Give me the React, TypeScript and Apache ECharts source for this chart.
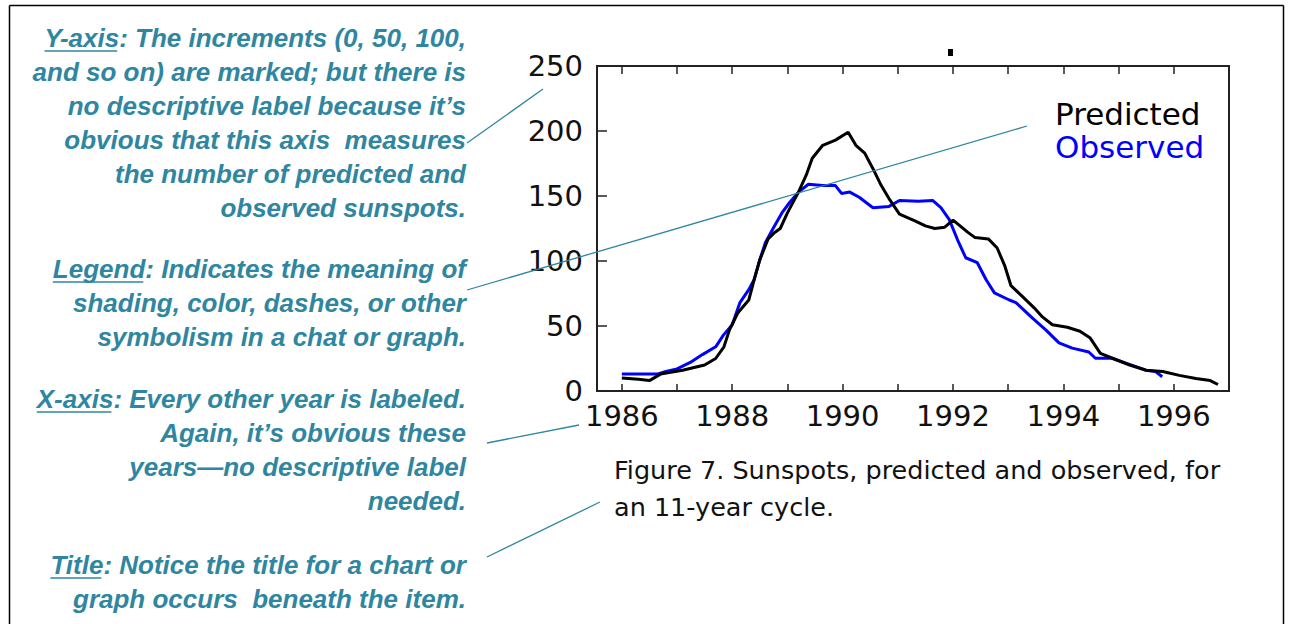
import React, { useEffect, useRef } from "react";
import * as echarts from "echarts";

// ---------- data ----------
const seriesNames = ["Predicted", "Observed"];

const predictedYears = [
  1986.0, 1986.3, 1986.5, 1986.7, 1987.1, 1987.5, 1987.7, 1987.85, 1987.95, 1988.1,
  1988.3, 1988.4, 1988.5, 1988.65, 1988.77, 1988.87, 1989.0, 1989.2, 1989.34, 1989.45,
  1989.64, 1989.87, 1990.1, 1990.24, 1990.4, 1990.55, 1990.7, 1990.84, 1991.03, 1991.3,
  1991.5, 1991.67, 1991.85, 1992.0, 1992.1, 1992.27, 1992.4, 1992.64, 1992.8, 1992.94,
  1993.05, 1993.25, 1993.47, 1993.62, 1993.8, 1994.07, 1994.3, 1994.48, 1994.67, 1994.9,
  1995.2, 1995.5, 1995.8, 1996.1, 1996.4, 1996.66, 1996.8,
];
const predictedValues = [
  10, 9, 8, 13, 16, 20, 25, 34, 47, 60,
  70, 86, 101, 117, 122, 125, 137, 153, 166, 179,
  189, 193, 199, 189, 183, 171, 158, 148, 136, 131,
  127, 125, 126, 131.5, 128, 122, 118, 117, 110, 96,
  81, 73, 64, 57, 51, 49, 46, 41, 29, 25,
  20, 16, 15, 12, 9.6, 8, 5,
];

const observedYears = [
  1986.0, 1986.64, 1986.8, 1987.0, 1987.24, 1987.46, 1987.7, 1987.84, 1988.0, 1988.14,
  1988.3, 1988.4, 1988.5, 1988.6, 1988.74, 1988.9, 1989.04, 1989.2, 1989.38, 1989.64,
  1989.87, 1989.98, 1990.13, 1990.3, 1990.55, 1990.84, 1991.03, 1991.37, 1991.63, 1991.78,
  1991.93, 1992.08, 1992.23, 1992.44, 1992.6, 1992.75, 1993.02, 1993.14, 1993.44, 1993.68,
  1993.92, 1994.16, 1994.46, 1994.58, 1994.88, 1995.13, 1995.49, 1995.67, 1995.79,
];
const observedValues = [
  13, 13, 15, 17, 22, 28, 34, 43, 51, 68,
  78, 86, 101, 114, 125, 137, 145, 153, 159, 158,
  158, 152, 153, 149, 141, 142, 146.5, 146, 146.6, 141,
  132, 116.5, 102.5, 98.7, 85.6, 75.5, 70, 68, 56, 47,
  37, 33, 30, 25.2, 25.2, 21.5, 16, 15, 11,
];

const xTickYears = [1986, 1987, 1988, 1989, 1990, 1991, 1992, 1993, 1994, 1995, 1996];
const xLabelYears = [1986, 1988, 1990, 1992, 1994, 1996];
const yTickValues = [0, 50, 100, 150, 200, 250];

const captionLines = [
  "Figure 7. Sunspots, predicted and observed, for",
  "an 11-year cycle.",
];

const yAxisNoteTerm = "Y-axis";
const yAxisNoteLines = [
  ": The increments (0, 50, 100,",
  "and so on) are marked; but there is",
  "no descriptive label because it\u2019s",
  "obvious that this axis  measures",
  "the number of predicted and",
  "observed sunspots.",
];
const legendNoteTerm = "Legend";
const legendNoteLines = [
  ": Indicates the meaning of",
  "shading, color, dashes, or other",
  "symbolism in a chat or graph.",
];
const xAxisNoteTerm = "X-axis";
const xAxisNoteLines = [
  ": Every other year is labeled.",
  "Again, it\u2019s obvious these",
  "years\u2014no descriptive label",
  "needed.",
];
const titleNoteTerm = "Title";
const titleNoteLines = [
  ": Notice the title for a chart or",
  "graph occurs  beneath the item.",
];

// ---------- layout / style ----------
const W = 1295;
const H = 624;
const TEAL = "#2f86a0";
const NOTE_FONT = 'italic bold 26px "Liberation Sans", Arial, sans-serif';
const NOTE_RIGHT = 466;
const NOTE_GAP = 34;
const CHART_FONT = '"DejaVu Sans", Verdana, sans-serif';
const FRAME = "#222";

const GRID = { left: 597, top: 66, width: 632, height: 325 };

function measure(text: string, font: string): number {
  const c = document.createElement("canvas").getContext("2d");
  if (!c) return text.length * 12;
  c.font = font;
  return c.measureText(text).width;
}

function noteBlock(term: string, lines: string[], startY: number): any[] {
  const els: any[] = [];
  lines.forEach((ln, i) => {
    const txt = i === 0 ? term + ln : ln;
    const y = startY + i * NOTE_GAP;
    els.push({
      type: "text",
      z: 10,
      style: {
        text: txt,
        x: NOTE_RIGHT,
        y,
        font: NOTE_FONT,
        fill: TEAL,
        align: "right",
        textAlign: "right",
        verticalAlign: "middle",
        textVerticalAlign: "middle",
      },
    });
    if (i === 0) {
      const total = measure(txt, NOTE_FONT);
      const tw = measure(term, NOTE_FONT);
      const x0 = NOTE_RIGHT - total;
      els.push({
        type: "line",
        z: 10,
        shape: { x1: x0, y1: y + 13, x2: x0 + tw - 2, y2: y + 13 },
        style: { stroke: TEAL, lineWidth: 1.6 },
      });
    }
  });
  return els;
}

const pointerLines = [
  [467, 143, 543, 89],
  [467, 290, 1027, 126],
  [487, 443, 579, 425],
  [487, 557, 600, 502],
];

export default function App() {
  const ref = useRef<HTMLDivElement | null>(null);

  useEffect(() => {
    if (!ref.current) return;
    const chart = echarts.init(ref.current, null, { renderer: "svg" });

    const graphics: any[] = [];
    // outer border
    graphics.push(
      { type: "line", shape: { x1: 9.5, y1: 5.5, x2: 9.5, y2: H }, style: { stroke: "#000", lineWidth: 1.5 } },
      { type: "line", shape: { x1: 9.5, y1: 5.5, x2: 1283.5, y2: 5.5 }, style: { stroke: "#000", lineWidth: 1.5 } },
      { type: "line", shape: { x1: 1283.5, y1: 5.5, x2: 1283.5, y2: H }, style: { stroke: "#000", lineWidth: 1.5 } }
    );
    graphics.push(...noteBlock(yAxisNoteTerm, yAxisNoteLines, 38));
    graphics.push(...noteBlock(legendNoteTerm, legendNoteLines, 269));
    graphics.push(...noteBlock(xAxisNoteTerm, xAxisNoteLines, 399));
    graphics.push(...noteBlock(titleNoteTerm, titleNoteLines, 565));
    pointerLines.forEach((p) =>
      graphics.push({
        type: "line",
        z: 20,
        shape: { x1: p[0], y1: p[1], x2: p[2], y2: p[3] },
        style: { stroke: TEAL, lineWidth: 1.3 },
      })
    );
    captionLines.forEach((t, i) =>
      graphics.push({
        type: "text",
        style: {
          text: t,
          x: 614,
          y: 470 + i * 37,
          font: '25.5px "DejaVu Sans", Verdana, sans-serif',
          fill: "#111",
          align: "left",
          textAlign: "left",
          verticalAlign: "middle",
          textVerticalAlign: "middle",
        },
      })
    );
    graphics.push({ type: "rect", shape: { x: 948, y: 49, width: 5, height: 7 }, style: { fill: "#000" } });

    const predictedData = predictedYears.map((x, i) => [x, predictedValues[i]]);
    const observedData = observedYears.map((x, i) => [x, observedValues[i]]);

    const xCommon = {
      type: "value",
      min: 1985.55,
      max: 1997,
      splitLine: { show: false },
      axisLine: { show: true, onZero: false, lineStyle: { color: FRAME, width: 2 } },
    };

    chart.setOption({
      animation: false,
      backgroundColor: "#fff",
      grid: {
        ...GRID,
        show: true,
        borderColor: FRAME,
        borderWidth: 2,
        backgroundColor: "transparent",
        containLabel: false,
      },
      legend: {
        orient: "vertical",
        left: 1050,
        top: 97,
        padding: 0,
        itemGap: 0,
        itemWidth: 0,
        itemHeight: 0,
        icon: "none",
        selectedMode: false,
        textStyle: { fontFamily: CHART_FONT, fontSize: 31, lineHeight: 33 },
        data: [
          { name: seriesNames[0], textStyle: { color: "#000" } },
          { name: seriesNames[1], textStyle: { color: "#0000ff" } },
        ],
      },
      xAxis: [
        {
          ...xCommon,
          position: "bottom",
          axisTick: {
            show: true,
            inside: true,
            length: 7,
            customValues: xTickYears,
            lineStyle: { color: FRAME, width: 1.5 },
          },
          axisLabel: {
            show: true,
            customValues: xLabelYears,
            margin: 10,
            fontFamily: CHART_FONT,
            fontSize: 29,
            color: "#111",
            formatter: (v: number) => String(Math.round(v)),
          },
        },
        {
          ...xCommon,
          position: "top",
          axisTick: {
            show: true,
            inside: true,
            length: 8,
            customValues: xTickYears,
            lineStyle: { color: FRAME, width: 1.5 },
          },
          axisLabel: { show: false },
        },
      ],
      yAxis: [
        {
          type: "value",
          min: 0,
          max: 250,
          interval: 50,
          splitLine: { show: false },
          axisLine: { show: true, lineStyle: { color: FRAME, width: 2 } },
          axisTick: {
            show: true,
            inside: true,
            length: 10,
            customValues: yTickValues,
            lineStyle: { color: FRAME, width: 1.5 },
          },
          axisLabel: {
            margin: 14,
            fontFamily: CHART_FONT,
            fontSize: 29,
            color: "#111",
          },
        },
      ],
      series: [
        {
          name: seriesNames[1],
          type: "line",
          xAxisIndex: 0,
          data: observedData,
          showSymbol: false,
          symbol: "none",
          lineStyle: { color: "#0000ff", width: 3 },
          itemStyle: { color: "#0000ff" },
          z: 2,
        },
        {
          name: seriesNames[0],
          type: "line",
          xAxisIndex: 0,
          data: predictedData,
          showSymbol: false,
          symbol: "none",
          lineStyle: { color: "#000", width: 3 },
          itemStyle: { color: "#000" },
          z: 3,
        },
      ],
      graphic: graphics,
    });

    return () => chart.dispose();
  }, []);

  return (
    <div
      ref={ref}
      style={{ position: "fixed", left: 0, top: 0, width: W, height: H, background: "#fff" }}
    />
  );
}
